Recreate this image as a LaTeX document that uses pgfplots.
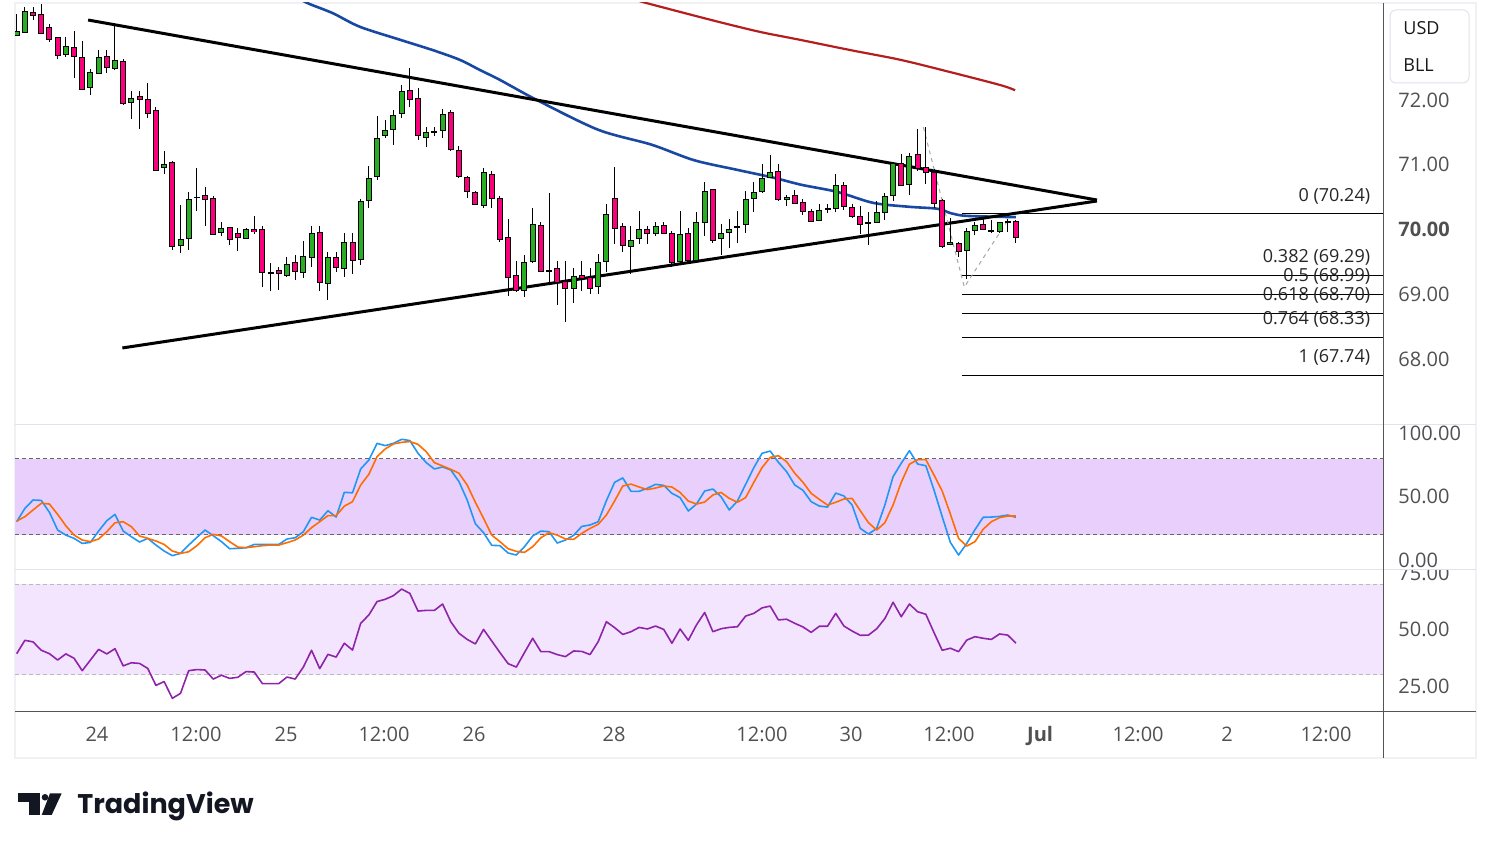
\documentclass[border=0pt]{standalone}
\usepackage{fontspec}
\setmainfont{Open Sans}
\newfontfamily\logofont{Poppins}
\usepackage{pgfplots}
\pgfplotsset{compat=1.18}
\usepackage{pgfplotstable}

\definecolor{tvgreen}{RGB}{41,173,35}
\definecolor{tvpink}{RGB}{250,0,125}
\definecolor{maone}{RGB}{24,72,162}
\definecolor{matwo}{RGB}{180,30,30}
\definecolor{kblue}{RGB}{33,150,243}
\definecolor{dorange}{RGB}{255,109,0}
\definecolor{rsipurple}{RGB}{142,36,170}
\definecolor{stband}{RGB}{233,208,252}
\definecolor{rsiband}{RGB}{243,229,253}
\definecolor{lbl}{RGB}{80,80,80}
\definecolor{sepc}{RGB}{224,227,235}
\definecolor{framec}{RGB}{240,241,244}
\definecolor{logoc}{RGB}{19,23,34}
\definecolor{axc}{RGB}{85,85,85}

\pgfplotstableread{
i o h l c
1 72.99 73.33 72.99 73.05
2 73.05 73.43 73.04 73.36
3 73.35 73.43 73.24 73.30
4 73.32 73.48 73.02 73.02
5 73.12 73.17 72.89 72.94
6 72.97 72.97 72.64 72.69
7 72.71 72.97 72.66 72.83
8 72.81 73.07 72.34 72.67
9 72.66 72.91 72.17 72.17
10 72.20 72.48 72.07 72.43
11 72.41 72.77 72.41 72.66
12 72.67 72.77 72.42 72.51
13 72.49 73.15 72.46 72.61
14 72.60 72.63 71.93 71.95
15 71.96 72.14 71.70 72.03
16 72.05 72.14 71.56 72.00
17 72.00 72.26 71.73 71.79
18 71.83 71.89 70.91 70.91
19 70.95 71.21 70.85 71.01
20 71.04 71.06 69.68 69.74
21 69.76 70.38 69.63 69.85
22 69.86 70.58 69.68 70.47
23 70.50 70.95 70.28 70.49
24 70.53 70.65 70.05 70.47
25 70.48 70.51 69.93 69.93
26 69.95 70.11 69.90 70.02
27 70.03 70.03 69.76 69.85
28 69.94 70.02 69.66 69.88
29 69.86 70.02 69.86 70.00
30 70.00 70.21 69.93 69.97
31 70.00 70.05 69.11 69.34
32 69.34 69.49 69.05 69.33
33 69.37 69.42 69.06 69.32
34 69.29 69.57 69.26 69.46
35 69.49 69.60 69.22 69.35
36 69.34 69.82 69.25 69.59
37 69.57 70.06 69.42 69.94
38 69.96 70.06 69.05 69.18
39 69.17 69.65 68.91 69.56
40 69.57 69.65 69.35 69.42
41 69.40 69.94 69.26 69.80
42 69.80 69.94 69.32 69.52
43 69.54 70.47 69.45 70.44
44 70.44 70.98 70.34 70.79
45 70.82 71.75 70.76 71.41
46 71.45 71.69 71.41 71.53
47 71.55 71.84 71.30 71.76
48 71.79 72.23 71.73 72.13
49 72.15 72.49 71.90 72.01
50 72.03 72.18 71.38 71.45
51 71.42 71.59 71.27 71.50
52 71.51 71.58 71.44 71.50
53 71.53 71.86 71.42 71.78
54 71.81 71.84 71.22 71.24
55 71.22 71.29 70.79 70.82
56 70.81 70.82 70.48 70.59
57 70.57 70.59 70.39 70.39
58 70.37 70.95 70.34 70.88
59 70.85 70.91 70.34 70.48
60 70.48 70.51 69.81 69.85
61 69.88 70.17 68.98 69.26
62 69.29 69.51 69.03 69.06
63 69.06 69.60 68.96 69.49
64 69.51 70.34 69.49 70.08
65 70.06 70.11 69.34 69.35
66 69.37 70.56 69.17 69.36
67 69.40 69.52 68.84 69.18
68 69.20 69.52 68.57 69.09
69 69.09 69.40 68.86 69.28
70 69.29 69.52 69.05 69.25
71 69.26 69.40 69.01 69.09
72 69.12 69.62 69.01 69.49
73 69.51 70.39 69.35 70.23
74 70.48 70.96 69.77 70.02
75 70.05 70.10 69.66 69.76
76 69.74 70.05 69.32 69.83
77 69.86 70.28 69.77 70.00
78 70.00 70.05 69.77 69.94
79 69.94 70.11 69.90 70.05
80 70.06 70.11 69.93 69.94
81 69.94 69.97 69.42 69.49
82 69.51 70.28 69.48 69.93
83 69.94 70.02 69.49 69.52
84 69.52 70.27 69.52 70.11
85 70.11 70.73 69.90 70.59
86 70.61 70.62 69.79 69.83
87 69.86 70.08 69.60 69.94
88 69.96 70.17 69.71 70.00
89 70.05 70.28 69.79 70.04
90 70.08 70.59 69.94 70.47
91 70.48 70.73 70.27 70.57
92 70.59 71.01 70.56 70.79
93 70.81 71.15 70.81 70.88
94 70.90 71.01 70.44 70.47
95 70.47 70.54 70.36 70.50
96 70.53 70.61 70.39 70.40
97 70.42 70.47 70.23 70.28
98 70.27 70.31 70.11 70.13
99 70.14 70.40 70.13 70.30
100 70.31 70.40 70.25 70.32
101 70.33 70.85 70.27 70.68
102 70.68 70.74 70.30 70.36
103 70.34 70.40 70.17 70.20
104 70.20 70.36 69.93 70.08
105 70.10 70.27 69.76 70.11
106 70.11 70.44 70.10 70.27
107 70.27 70.56 70.14 70.51
108 70.53 71.02 70.44 71.02
109 71.02 71.16 70.67 70.68
110 70.70 71.18 70.53 71.13
111 71.16 71.55 70.91 70.95
112 70.96 71.59 70.71 70.88
113 70.88 70.93 70.33 70.40
114 70.44 70.47 69.71 69.74
115 69.77 70.17 69.76 69.80
116 69.79 69.80 69.57 69.66
117 69.68 70.03 69.23 69.97
118 69.99 70.11 69.91 70.06
119 70.08 70.17 69.99 70.00
120 69.99 70.14 69.94 69.98
121 69.97 70.11 69.94 70.11
122 70.11 70.17 69.96 70.12
123 70.13 70.14 69.79 69.88
}\candles

\pgfplotstableread{
i k d
1 30.3 30.8
2 40.9 34.3
3 47.5 39.6
4 47.2 44.9
5 37.7 44.3
6 23.7 36.1
7 19.7 27.1
8 17.1 19.7
9 13.1 15.8
10 13.9 14.5
11 22.9 16.6
12 31.1 22.4
13 36.1 29.5
14 22.9 30.3
15 18.4 26.4
16 14.2 19.0
17 17.1 17.1
18 11.8 15.0
19 7.1 12.3
20 3.4 7.1
21 5.2 5.2
22 11.8 6.5
23 17.9 11.3
24 23.7 17.6
25 19.2 20.3
26 14.5 19.0
27 8.9 14.5
28 9.2 10.2
29 9.7 9.7
30 12.3 10.5
31 12.3 11.3
32 12.3 11.8
33 12.3 11.8
34 16.6 13.7
35 17.6 15.8
36 22.4 19.7
37 33.8 25.6
38 31.6 30.3
39 39.0 35.1
40 34.0 35.1
41 53.6 42.6
42 53.2 46.2
43 72.1 59.4
44 79.2 67.9
45 92.4 81.9
46 90.6 88.0
47 92.4 91.9
48 95.6 93.2
49 94.6 93.8
50 84.5 91.6
51 77.1 85.8
52 72.1 77.1
53 73.7 74.5
54 71.3 71.8
55 62.1 68.7
56 47.5 59.4
57 28.7 45.7
58 21.6 33.0
59 11.6 19.7
60 11.3 14.5
61 5.5 8.9
62 3.9 6.8
63 10.5 6.0
64 19.0 10.5
65 22.9 17.6
66 22.4 21.6
67 13.4 19.7
68 15.8 16.6
69 19.5 16.3
70 26.6 21.1
71 27.7 25.0
72 30.3 28.2
73 47.0 35.6
74 61.5 46.7
75 65.0 58.6
76 54.4 60.1
77 54.4 57.8
78 56.8 55.7
79 59.9 57.0
80 59.1 58.6
81 52.8 57.8
82 49.4 53.5
83 38.8 46.7
84 44.3 44.3
85 54.6 45.9
86 56.2 51.5
87 50.1 53.5
88 39.6 48.8
89 46.7 45.7
90 59.9 49.4
91 73.1 61.5
92 84.5 73.1
93 86.3 81.3
94 77.4 82.6
95 70.0 77.9
96 59.4 68.7
97 55.2 61.5
98 46.2 52.8
99 42.7 48.0
100 41.9 43.5
101 53.0 45.7
102 50.7 48.3
103 43.5 48.8
104 25.0 39.0
105 20.5 29.5
106 25.0 23.7
107 43.5 29.5
108 66.0 43.5
109 76.6 61.5
110 86.6 75.8
111 76.0 79.5
112 74.7 79.5
113 55.4 67.3
114 34.3 54.6
115 13.9 36.4
116 3.9 17.1
117 13.1 11.0
118 24.0 14.5
119 33.8 24.3
120 34.0 30.3
121 34.5 33.5
122 35.6 34.8
123 33.8 34.8
}\stoch

\pgfplotstableread{
i r
1 39.4
2 45.3
3 44.6
4 40.9
5 39.4
6 36.6
7 39.3
8 37.4
9 31.9
10 36.6
11 41.3
12 39.3
13 41.6
14 34.0
15 35.4
16 35.1
17 32.9
18 25.4
19 27.1
20 19.7
21 21.9
22 31.9
23 32.4
24 32.2
25 28.2
26 29.9
27 28.5
28 29.0
29 31.5
30 31.3
31 26.2
32 26.2
33 26.2
34 29.1
35 28.2
36 33.5
37 40.9
38 32.8
39 39.1
40 37.9
41 44.0
42 41.0
43 52.8
44 56.5
45 62.4
46 63.4
47 65.0
48 67.9
49 66.0
50 58.2
51 58.5
52 58.5
53 61.3
54 53.5
55 48.4
56 45.7
57 43.7
58 50.1
59 45.0
60 39.9
61 35.0
62 33.5
63 39.9
64 46.2
65 40.3
66 40.3
67 39.0
68 38.1
69 40.6
70 40.4
71 39.0
72 44.7
73 53.5
74 50.9
75 47.9
76 49.1
77 51.0
78 50.3
79 51.6
80 50.1
81 44.0
82 50.3
83 45.3
84 52.1
85 57.6
86 49.1
87 50.4
88 51.0
89 51.3
90 56.0
91 57.2
92 59.6
93 60.4
94 54.3
95 54.6
96 52.8
97 51.2
98 48.8
99 51.5
100 51.5
101 57.2
102 51.6
103 49.4
104 47.5
105 47.6
106 50.4
107 54.9
108 62.1
109 55.7
110 61.3
111 57.9
112 56.8
113 48.7
114 40.9
115 41.8
116 40.3
117 45.4
118 46.9
119 46.2
120 45.7
121 48.1
122 47.6
123 44.0
}\rsi

\pgfplotsset{
  tvaxis/.style={
    scale only axis, width=684.15pt, anchor=south west,
    xmin=0.792, xmax=167.86,
    axis x line=bottom, axis y line=right,
    axis line style={draw=none},
    major tick length=0pt, tick style={draw=none},
    yticklabel pos=right,
    yticklabel style={anchor=west, inner sep=0pt, xshift=7.35pt,
      font=\fontsize{10}{12}\selectfont, text=lbl},
    xticklabel style={anchor=base, inner sep=0pt, yshift=-15.15pt,
      font=\fontsize{10}{12}\selectfont, text=lbl},
    clip=true,
  },
  cbar/.style={draw=none, mark=none, forget plot,
    error bars/y dir=both, error bars/y explicit, error bars/error mark=none},
}

\begin{document}
\begin{tikzpicture}
\path[use as bounding box] (0,0) rectangle (745.5pt,424.5pt);
\draw[framec, line width=1pt] (7.5pt,423pt) rectangle (738pt,45.5pt);

% ---------------- main price panel
\begin{axis}[tvaxis, at={(7.5pt,212.35pt)}, height=210.65pt,
  ymin=66.991, ymax=73.498, xtick=\empty,
  ytick={68,69,70,71,72},
  yticklabels={68.00,69.00,\textbf{70.00},71.00,72.00}]
% moving averages
\addplot[matwo, line width=1.1pt, line join=round, smooth] coordinates {
(77.0,73.53) (77.8,73.50) (82.0,73.36) (86.9,73.20) (91.8,73.05) (96.6,72.93)
(102.8,72.77) (108.9,72.62) (115.0,72.43) (121.1,72.23) (122.9,72.15)};
\addplot[maone, line width=1.3pt, line join=round, smooth] coordinates {
(35.5,73.56) (36.8,73.48) (39.6,73.34) (42.9,73.13) (47.8,72.93) (51.8,72.77)
(55.1,72.62) (57.6,72.46) (60.0,72.31) (64.5,72.00) (72.0,71.54) (78.5,71.31)
(83.7,71.07) (89.0,70.92) (93.4,70.80) (96.8,70.69) (101.2,70.58) (105.6,70.41)
(110.0,70.35) (113.4,70.32) (115.1,70.25) (117.0,70.21) (123.0,70.19)};
% triangle
\addplot[black, line width=1.5pt] coordinates {(9.72,73.235) (132.9,70.455)};
\addplot[black, line width=1.5pt] coordinates {(13.9,68.17) (132.9,70.44)};
% fib levels
\addplot[black, line width=0.5pt] coordinates {(116.4,70.24) (167.86,70.24)};
\addplot[black, line width=0.5pt] coordinates {(116.4,69.29) (167.86,69.29)};
\addplot[black, line width=0.5pt] coordinates {(116.4,68.99) (167.86,68.99)};
\addplot[black, line width=0.5pt] coordinates {(116.4,68.70) (167.86,68.70)};
\addplot[black, line width=0.5pt] coordinates {(116.4,68.33) (167.86,68.33)};
\addplot[black, line width=0.5pt] coordinates {(116.4,67.74) (167.86,67.74)};
\addplot[gray!70, line width=0.5pt, dash pattern=on 2pt off 2pt] coordinates {(111.7,71.58) (116.7,69.11) (121.8,70.10)};
% candles: wicks
\addplot[cbar, error bars/error bar style={line width=0.5pt, draw=black}]
  table[x=i, y expr={(\thisrow{h}+\thisrow{l})/2}, y error expr={(\thisrow{h}-\thisrow{l})/2}] {\candles};
% up bodies
\addplot[cbar, restrict expr to domain={\thisrow{c}-\thisrow{o}}{0:100},
  error bars/error bar style={line width=3pt, draw=black}]
  table[x=i, y expr={(\thisrow{o}+\thisrow{c})/2}, y error expr={abs(\thisrow{c}-\thisrow{o})/2+0.0077}] {\candles};
\addplot[cbar, restrict expr to domain={\thisrow{c}-\thisrow{o}}{0:100},
  error bars/error bar style={line width=2pt, draw=tvgreen}]
  table[x=i, y expr={(\thisrow{o}+\thisrow{c})/2}, y error expr={max(abs(\thisrow{c}-\thisrow{o})/2-0.0077,0)}] {\candles};
% down bodies
\addplot[cbar, restrict expr to domain={\thisrow{c}-\thisrow{o}}{-100:-0.0001},
  error bars/error bar style={line width=3pt, draw=black}]
  table[x=i, y expr={(\thisrow{o}+\thisrow{c})/2}, y error expr={abs(\thisrow{c}-\thisrow{o})/2+0.0077}] {\candles};
\addplot[cbar, restrict expr to domain={\thisrow{c}-\thisrow{o}}{-100:-0.0001},
  error bars/error bar style={line width=2pt, draw=tvpink}]
  table[x=i, y expr={(\thisrow{o}+\thisrow{c})/2}, y error expr={max(abs(\thisrow{c}-\thisrow{o})/2-0.0077,0)}] {\candles};
% fib labels
\begin{scope}[every node/.style={anchor=east, inner sep=0pt, yshift=9pt, font=\fontsize{9}{10}\selectfont, text=black!85}]
\node at (axis cs:166.3,70.24) {0 (70.24)};
\node at (axis cs:166.3,69.29) {0.382 (69.29)};
\node at (axis cs:166.3,68.99) {0.5 (68.99)};
\node at (axis cs:166.3,68.70) {0.618 (68.70)};
\node at (axis cs:166.3,68.33) {0.764 (68.33)};
\node at (axis cs:166.3,67.74) {1 (67.74)};
\end{scope}
\end{axis}

% ---------------- stochastic RSI panel
\begin{axis}[tvaxis, at={(7.5pt,139.85pt)}, height=72.5pt,
  ymin=-7.4, ymax=107.5, xtick=\empty,
  ytick={0,50,100}, yticklabels={0.00,50.00,100.00}]
\addplot[draw=none, fill=stband, forget plot] coordinates {(0.792,20) (0.792,80) (167.86,80) (167.86,20)} -- cycle;
\addplot[axc!90, line width=0.5pt, dash pattern=on 2pt off 1.5pt] coordinates {(0.792,80) (167.86,80)};
\addplot[axc!90, line width=0.5pt, dash pattern=on 2pt off 1.5pt] coordinates {(0.792,20) (167.86,20)};
\addplot[kblue, line width=0.8pt, line join=round] table[x=i, y=k] {\stoch};
\addplot[dorange, line width=0.8pt, line join=round] table[x=i, y=d] {\stoch};
\end{axis}

% ---------------- RSI panel
\begin{axis}[tvaxis, at={(7.5pt,68.65pt)}, height=71.2pt,
  ymin=13.81, ymax=76.63,
  ytick={25,50}, yticklabels={25.00,50.00},
  xtick={10.80,22.89,33.88,45.85,56.84,73.93,92.0,102.87,114.83,125.95,137.92,148.78,160.87},
  xticklabels={24,12:00,25,12:00,26,28,12:00,30,12:00,\textbf{Jul},12:00,2,12:00}]
\addplot[draw=none, fill=rsiband, forget plot] coordinates {(0.792,30) (0.792,70) (167.86,70) (167.86,30)} -- cycle;
\addplot[gray!55, line width=0.5pt, dash pattern=on 2pt off 1.5pt] coordinates {(0.792,70) (167.86,70)};
\addplot[gray!55, line width=0.5pt, dash pattern=on 2pt off 1.5pt] coordinates {(0.792,30) (167.86,30)};
\addplot[rsipurple, line width=0.8pt, line join=round] table[x=i, y=r] {\rsi};
\end{axis}

% clipped 75.00 label of the RSI scale
\begin{scope}
\clip (695pt,139.85pt) rectangle (740pt,125pt);
\node[anchor=west, inner sep=0pt, font=\fontsize{10}{12}\selectfont, text=lbl] at (699pt,138pt) {75.00};
\end{scope}

% separators and scale line
\draw[sepc, line width=0.5pt] (7.5pt,212.35pt) -- (738pt,212.35pt);
\draw[sepc, line width=0.5pt] (7.5pt,139.85pt) -- (738pt,139.85pt);
\draw[axc, line width=0.5pt] (7.5pt,68.65pt) -- (738pt,68.65pt);
\draw[axc, line width=0.5pt] (691.65pt,423pt) -- (691.65pt,45.5pt);

% symbol box
\draw[sepc, line width=0.5pt, rounded corners=3pt, fill=white] (695pt,419.5pt) rectangle (734.5pt,383pt);
\node[anchor=west, inner sep=0pt, font=\fontsize{9}{10}\selectfont, text=black!90] at (701.5pt,410.35pt) {USD};
\node[anchor=west, inner sep=0pt, font=\fontsize{9}{10}\selectfont, text=black!90] at (701.5pt,391.75pt) {BLL};

% TradingView logo
\fill[logoc] (9.15pt,27.85pt) rectangle (20pt,23.65pt);
\fill[logoc] (14.5pt,23.65pt) rectangle (20pt,17pt);
\fill[logoc] (22.5pt,25.85pt) circle (1.65pt);
\fill[logoc] (25pt,27.85pt) -- (30.85pt,27.85pt) -- (25.85pt,17pt) -- (20.85pt,17pt) -- cycle;
\node[anchor=base west, inner sep=0pt, font=\logofont\bfseries\fontsize{13.5}{15}\selectfont, text=logoc] at (38.5pt,17.85pt) {TradingView};
\end{tikzpicture}
\end{document}
